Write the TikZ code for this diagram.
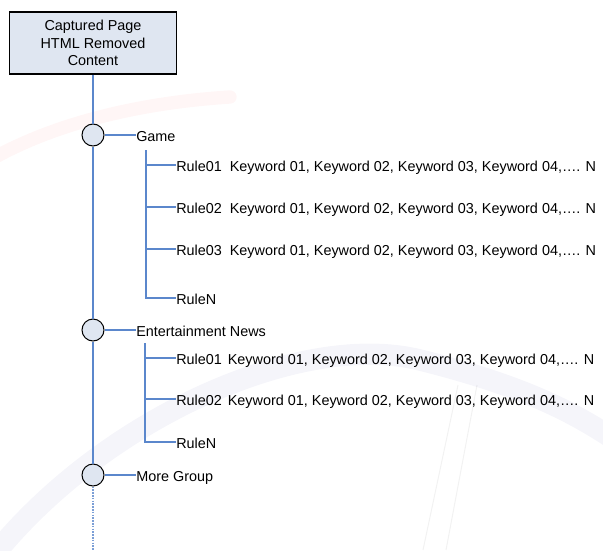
\documentclass[tikz,border=0pt]{standalone}
\usepackage{fontspec}
\setmainfont{Liberation Sans}
\begin{document}
\begin{tikzpicture}[x=0.75pt,y=-0.75pt,
  conn/.style={draw=lineblue, line width=0.8pt},
  dotconn/.style={draw=lineblue!80, line width=0.8pt, dash pattern=on 1.2pt off 0.9pt},
  topbox/.style={draw=black, fill=boxfill, line width=0.8pt, minimum width=125.25pt, minimum height=46.5pt, align=center, inner sep=0pt, font=\fontsize{10.8}{13.1}\selectfont},
  hub/.style={circle, draw=black, fill=boxfill, line width=0.75pt, minimum size=16.5pt, inner sep=0pt},
  lbl/.style={anchor=base west, inner sep=0pt, font=\fontsize{10.8}{13}\selectfont}
]
\definecolor{lineblue}{HTML}{5B87CC}
\definecolor{boxfill}{HTML}{DFE6F1}
\useasboundingbox (0,0) rectangle (603,550);
% faint watermark
\draw[line width=16pt, color=blue!35!gray, opacity=0.06, line cap=round]
  (-10,560) .. controls (100,420) and (300,330) .. (420,360) .. controls (520,385) and (570,410) .. (615,440);
\draw[line width=0.8pt, color=gray, opacity=0.1] (458,385) -- (423,550);
\draw[line width=0.8pt, color=gray, opacity=0.1] (477,385) -- (446,550);
\draw[line width=10pt, color=red!70, opacity=0.05, line cap=round]
  (-10,160) .. controls (60,120) and (150,102) .. (230,97);

\node[topbox] (top) at (93,43) {Captured Page\\HTML Removed\\Content};

\node[hub] (h1) at (93,135) {};
\node[hub] (h2) at (93,330) {};
\node[hub] (h3) at (93,475) {};
\coordinate (end) at (93,550);

\draw[conn] (top.south) -- (h1.north);
\draw[conn] (h1.south) -- (h2.north);
\draw[conn] (h2.south) -- (h3.north);
\draw[dotconn] (h3.south) -- (end);

% Group 1
\node[lbl] (g1) at (136,141) {Game};
\draw[conn] (h1.east) -- (h1.east -| g1.west);
\node[lbl] (g1r1) at (176,171) {Rule01\ \ Keyword 01, Keyword 02, Keyword 03, Keyword 04,…. N};
\node[lbl] (g1r2) at (176,213) {Rule02\ \ Keyword 01, Keyword 02, Keyword 03, Keyword 04,…. N};
\node[lbl] (g1r3) at (176,255) {Rule03\ \ Keyword 01, Keyword 02, Keyword 03, Keyword 04,…. N};
\node[lbl] (g1rn) at (176,304) {RuleN};
\coordinate (b1top) at (146,150);
\coordinate (b1bot) at (146,298);
\draw[conn] (b1top) -- (b1bot) -- (b1bot -| g1rn.west);
\draw[conn] (146,165) -- (g1r1.west |- 0,165);
\draw[conn] (146,207) -- (g1r2.west |- 0,207);
\draw[conn] (146,249) -- (g1r3.west |- 0,249);

% Group 2
\node[lbl] (g2) at (136,336) {Entertainment News};
\draw[conn] (h2.east) -- (h2.east -| g2.west);
\node[lbl] (g2r1) at (176,364) {Rule01\hspace{1.5pt} Keyword 01, Keyword 02, Keyword 03, Keyword 04,…. N};
\node[lbl] (g2r2) at (176,405) {Rule02\hspace{1.5pt} Keyword 01, Keyword 02, Keyword 03, Keyword 04,…. N};
\node[lbl] (g2rn) at (176,448) {RuleN};
\coordinate (b2top) at (145,343);
\coordinate (b2bot) at (145,442);
\draw[conn] (b2top) -- (b2bot) -- (b2bot -| g2rn.west);
\draw[conn] (145,358) -- (g2r1.west |- 0,358);
\draw[conn] (145,399) -- (g2r2.west |- 0,399);

% Group 3
\node[lbl] (g3) at (136,481) {More Group};
\draw[conn] (h3.east) -- (h3.east -| g3.west);
\end{tikzpicture}
\end{document}
